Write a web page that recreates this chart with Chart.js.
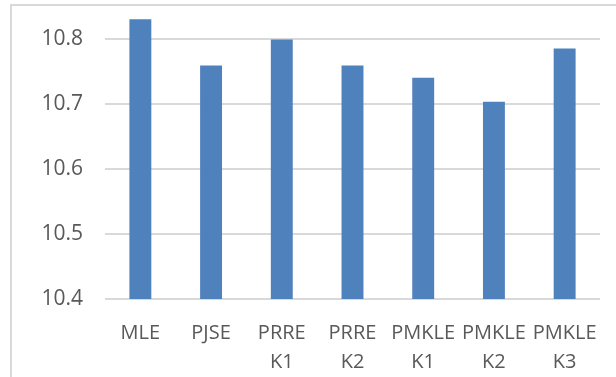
<!DOCTYPE html>
<html>
<head>
  <title>Estimator Comparison</title>
  <script src="https://cdn.jsdelivr.net/npm/chart.js"></script>
  <style>
    body {
      margin: 0;
      width: 616px;
      height: 377px;
      overflow: hidden;
      background: #fff;
      position: relative;
    }

    #frame {
      position: absolute;
      left: 10px;
      top: 4px;
      width: 700px;
      height: 500px;
      border: 2px solid #d9d9d9;
    }

    #chart-box {
      position: absolute;
      left: 0;
      top: 0;
      width: 616px;
      height: 377px;
    }
  </style>
</head>
<body>
  <div id="frame"></div>
  <div id="chart-box">
    <canvas id="estChart" width="616" height="377"></canvas>
  </div>

  <script>
    // Chart data
    const categories = [["MLE"], ["PJSE"], ["PRRE", "K1"], ["PRRE", "K2"], ["PMKLE", "K1"], ["PMKLE", "K2"], ["PMKLE", "K3"]];
    const values = [10.831, 10.76, 10.80, 10.76, 10.741, 10.704, 10.786];
    const yTicks = [10.4, 10.5, 10.6, 10.7, 10.8];

    const ctx = document.getElementById("estChart").getContext("2d");
    new Chart(ctx, {
      type: "bar",
      data: {
        labels: categories,
        datasets: [{
          data: values,
          backgroundColor: "#4F81BD",
          borderWidth: 0,
          barPercentage: 1,
          categoryPercentage: 0.31,
        }],
      },
      options: {
        responsive: false,
        animation: false,
        layout: {
          padding: { left: 0, right: 16, top: 7, bottom: 0 },
        },
        plugins: {
          legend: { display: false },
          tooltip: { enabled: false },
        },
        scales: {
          x: {
            grid: { display: false, drawTicks: false },
            border: { display: false },
            ticks: {
              color: "#595959",
              font: { family: "'Open Sans'", size: 20, lineHeight: 1.45 },
              padding: 20,
              maxRotation: 0,
              autoSkip: false,
            },
            afterFit: scale => {
              scale.height = 78;
              scale.paddingLeft = 0;
              scale.paddingRight = 0;
            },
          },
          y: {
            min: 10.4,
            max: 10.85,
            border: { display: false },
            grid: {
              drawTicks: false,
              lineWidth: 2,
              color: c => yTicks.some(t => Math.abs(t - c.tick.value) < 1e-6) ? "#d9d9d9" : "rgba(0,0,0,0)",
            },
            ticks: {
              stepSize: 0.1,
              color: "#595959",
              font: { family: "'Open Sans'", size: 21 },
              padding: 22,
              callback: v => {
                const t = yTicks.find(t => Math.abs(t - v) < 1e-6);
                return t === undefined ? "" : t.toFixed(1);
              },
            },
            afterFit: scale => {
              scale.width = 105;
              scale.paddingTop = 0;
              scale.paddingBottom = 0;
            },
          },
        },
      },
    });
  </script>
</body>
</html>
